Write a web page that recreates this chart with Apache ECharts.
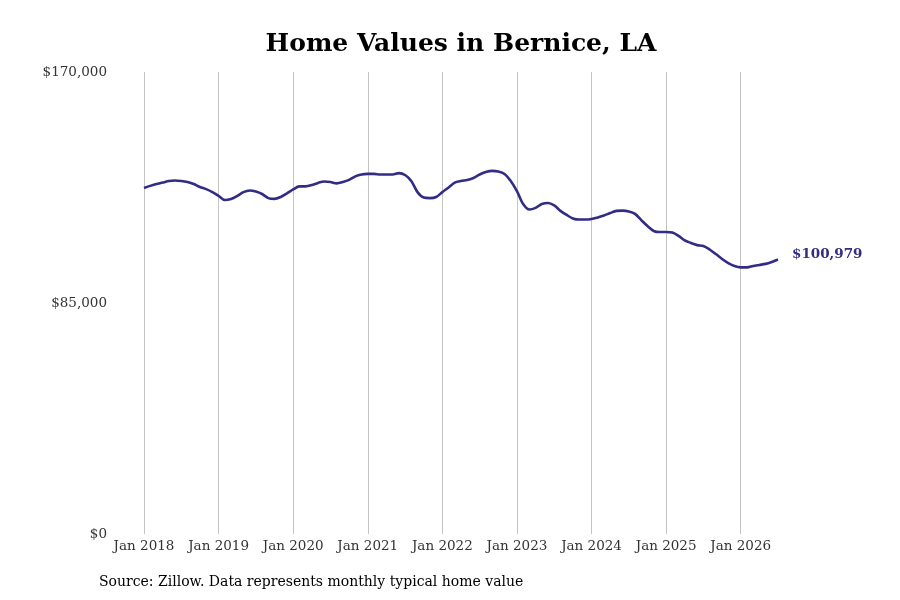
<!DOCTYPE html>
<html>
<head>
<meta charset="utf-8">
<script src="https://cdn.jsdelivr.net/npm/echarts@6/dist/echarts.min.js"></script>
<style>html,body{margin:0;padding:0;background:#fff;}#c{width:900px;height:600px;}</style>
</head>
<body>
<div id="c"></div>
<script>
const startYear = 2018;
const values = [
  127300,128100,128800,129300,129900,130100,129900,129500,128800,127700,126900,125800,
  124400,122900,123300,124400,125800,126400,126000,125100,123600,123300,124000,125300,
  126800,127900,127900,128400,129200,129700,129500,129000,129500,130300,131600,132300,
  132500,132500,132300,132300,132300,132800,132100,129900,125800,123800,123600,124000,
  125800,127500,129300,129900,130300,131000,132300,133200,133600,133400,132500,129900,
  126200,121400,119400,120000,121400,121800,120900,118900,117400,116100,115700,115700,
  115900,116500,117200,118100,118900,119000,118700,117800,115500,113300,111500,111100,
  111100,110900,109700,108000,107100,106300,106000,104700,103000,101200,99700,98600,
  98100,98100,98600,99000,99400,100100,100979
];
const monthNames = ['Jan','Feb','Mar','Apr','May','Jun','Jul','Aug','Sep','Oct','Nov','Dec'];
const categories = values.map((v, i) => monthNames[i % 12] + ' ' + (startYear + Math.floor(i / 12)));
const yTicks = [0, 85000, 170000];
const titleText = 'Home Values in Bernice, LA';
const sourceText = 'Source: Zillow. Data represents monthly typical home value';
const lineColor = '#312c85';
const serif = 'DejaVu Serif';

const chart = echarts.init(document.getElementById('c'));
chart.setOption({
  backgroundColor: '#fff',
  animation: false,
  grid: { left: 144, right: 122, top: 72, bottom: 66 },
  graphic: [
    { type: 'text', x: 461, y: 44, style: { text: titleText, font: 'bold 25px "' + serif + '"', fill: '#000', textAlign: 'center', textVerticalAlign: 'middle' } },
    { type: 'text', x: 99, y: 582, style: { text: sourceText, font: '14px "' + serif + '"', fill: '#000', textAlign: 'left', textVerticalAlign: 'middle' } }
  ],
  xAxis: {
    type: 'category',
    data: categories,
    boundaryGap: false,
    axisLine: { show: false },
    axisTick: { show: false },
    axisLabel: {
      interval: (i) => i % 12 === 0,
      fontFamily: serif, fontSize: 13.5, color: '#333', margin: 5
    },
    splitLine: { show: true, interval: (i) => i % 12 === 0, lineStyle: { color: '#c4c4c4', width: 1 } }
  },
  yAxis: {
    type: 'value',
    min: yTicks[0], max: yTicks[2], interval: yTicks[1] - yTicks[0],
    axisLine: { show: false },
    axisTick: { show: false },
    splitLine: { show: false },
    axisLabel: {
      margin: 37, fontFamily: serif, fontSize: 13.5, color: '#333',
      formatter: (v) => '$' + v.toLocaleString('en-US')
    }
  },
  series: [{
    type: 'line',
    data: values,
    smooth: 0.3,
    symbol: 'none',
    lineStyle: { color: lineColor, width: 2.6 },
    endLabel: {
      show: true,
      formatter: (p) => '$' + p.value.toLocaleString('en-US'),
      fontFamily: serif, fontSize: 13.5, fontWeight: 'bold', color: lineColor,
      distance: 14, offset: [0, -5]
    }
  }]
});
</script>
</body>
</html>
